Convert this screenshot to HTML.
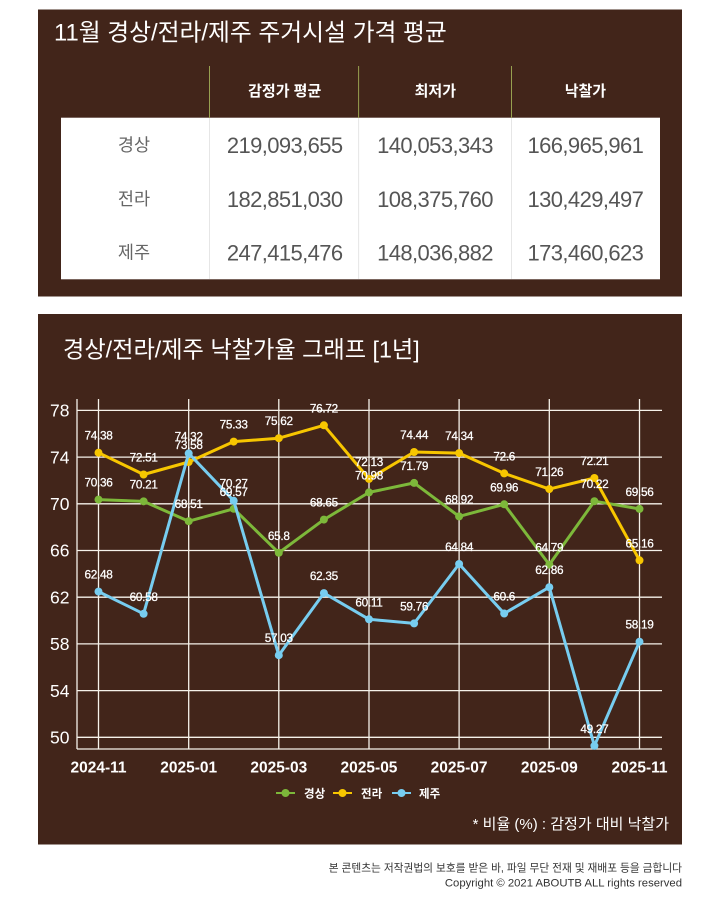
<!DOCTYPE html>
<html><head><meta charset="utf-8">
<style>
html,body{margin:0;padding:0;background:#fff;}
svg{display:block;}
text{font-family:"Liberation Sans","Noto Sans CJK KR",sans-serif;}
</style></head>
<body>
<svg width="720" height="911" viewBox="0 0 720 911" xmlns="http://www.w3.org/2000/svg">
<!-- Top panel -->
<rect x="38" y="9.5" width="644" height="287" fill="#42251a"/>
<text x="54" y="40.5" font-size="23.8" fill="#fff">11월 경상/전라/제주 주거시설 가격 평균</text>
<rect x="61" y="117.7" width="599" height="161.6" fill="#fff"/>
<g stroke="#98a050" stroke-width="1">
<line x1="209.5" y1="66" x2="209.5" y2="118"/>
<line x1="358.6" y1="66" x2="358.6" y2="118"/>
<line x1="511.5" y1="66" x2="511.5" y2="118"/>
</g>
<g stroke="#e6e6e6" stroke-width="1">
<line x1="209.5" y1="118" x2="209.5" y2="279"/>
<line x1="358.6" y1="118" x2="358.6" y2="279"/>
<line x1="511.5" y1="118" x2="511.5" y2="279"/>
</g>
<g font-size="15" fill="#fff" text-anchor="middle" font-weight="bold">
<text x="284.7" y="96">감정가 평균</text>
<text x="435.3" y="96">최저가</text>
<text x="585.4" y="96">낙찰가</text>
</g>
<g font-size="17.5" fill="#666" text-anchor="middle">
<text x="134" y="151">경상</text>
<text x="134" y="205">전라</text>
<text x="134" y="258.5">제주</text>
</g>
<g font-size="22" fill="#555" text-anchor="middle" letter-spacing="-0.6">
<text x="284.7" y="153">219,093,655</text>
<text x="435" y="153">140,053,343</text>
<text x="585.4" y="153">166,965,961</text>
<text x="284.7" y="207">182,851,030</text>
<text x="435" y="207">108,375,760</text>
<text x="585.4" y="207">130,429,497</text>
<text x="284.7" y="260.7">247,415,476</text>
<text x="435" y="260.7">148,036,882</text>
<text x="585.4" y="260.7">173,460,623</text>
</g>

<!-- Chart panel -->
<rect x="38" y="314" width="644" height="530.5" fill="#42251a"/>
<text x="63" y="357.5" font-size="23.2" fill="#fff">경상/전라/제주 낙찰가율 그래프 [1년]</text>

<!-- grid -->
<g stroke="#f6f2ea" stroke-width="1.3">
<line x1="77" y1="410.4" x2="662" y2="410.4"/>
<line x1="77" y1="457.1" x2="662" y2="457.1"/>
<line x1="77" y1="503.8" x2="662" y2="503.8"/>
<line x1="77" y1="550.5" x2="662" y2="550.5"/>
<line x1="77" y1="597.2" x2="662" y2="597.2"/>
<line x1="77" y1="643.9" x2="662" y2="643.9"/>
<line x1="77" y1="690.6" x2="662" y2="690.6"/>
<line x1="77" y1="737.3" x2="662" y2="737.3"/>
<line x1="98.5" y1="399" x2="98.5" y2="749"/>
<line x1="188.7" y1="399" x2="188.7" y2="749"/>
<line x1="278.8" y1="399" x2="278.8" y2="749"/>
<line x1="369" y1="399" x2="369" y2="749"/>
<line x1="459.1" y1="399" x2="459.1" y2="749"/>
<line x1="549.3" y1="399" x2="549.3" y2="749"/>
<line x1="639.5" y1="399" x2="639.5" y2="749"/>
<line x1="77" y1="399" x2="77" y2="749"/>
<line x1="77" y1="749" x2="662" y2="749"/>
</g>
<g font-size="17.5" fill="#fff" text-anchor="end">
<text x="69.5" y="416.6">78</text>
<text x="69.5" y="463.3">74</text>
<text x="69.5" y="510">70</text>
<text x="69.5" y="556.7">66</text>
<text x="69.5" y="603.4">62</text>
<text x="69.5" y="650.1">58</text>
<text x="69.5" y="696.8">54</text>
<text x="69.5" y="743.5">50</text>
</g>
<g font-size="15.5" fill="#fff" text-anchor="middle" font-weight="bold">
<text x="98.5" y="772.5">2024-11</text>
<text x="188.7" y="772.5">2025-01</text>
<text x="278.8" y="772.5">2025-03</text>
<text x="369" y="772.5">2025-05</text>
<text x="459.1" y="772.5">2025-07</text>
<text x="549.3" y="772.5">2025-09</text>
<text x="639.5" y="772.5">2025-11</text>
</g>

<!-- green 경상 -->
<g fill="#7db83a">
<polyline fill="none" stroke="#7db83a" stroke-width="3" stroke-linejoin="round" points="98.5,499.6 143.6,501.35 188.7,521.2 233.7,508.8 278.8,552.8 323.9,519.6 369,492.4 414.1,482.9 459.1,516.4 504.2,504.3 549.3,564.6 594.4,501.2 639.5,508.9"/>
<circle cx="98.5" cy="499.6" r="4"/><circle cx="143.6" cy="501.35" r="4"/><circle cx="188.7" cy="521.2" r="4"/><circle cx="233.7" cy="508.8" r="4"/><circle cx="278.8" cy="552.8" r="4"/><circle cx="323.9" cy="519.6" r="4"/><circle cx="369" cy="492.4" r="4"/><circle cx="414.1" cy="482.9" r="4"/><circle cx="459.1" cy="516.4" r="4"/><circle cx="504.2" cy="504.3" r="4"/><circle cx="549.3" cy="564.6" r="4"/><circle cx="594.4" cy="501.2" r="4"/><circle cx="639.5" cy="508.9" r="4"/>
</g>
<!-- yellow 전라 -->
<g fill="#f7c600">
<polyline fill="none" stroke="#f7c600" stroke-width="3" stroke-linejoin="round" points="98.5,452.7 143.6,474.5 188.7,462 233.7,441.6 278.8,438.2 323.9,425.3 369,478.9 414.1,452 459.1,453.1 504.2,473.4 549.3,489.1 594.4,478 639.5,560.3"/>
<circle cx="98.5" cy="452.7" r="4"/><circle cx="143.6" cy="474.5" r="4"/><circle cx="188.7" cy="462" r="4"/><circle cx="233.7" cy="441.6" r="4"/><circle cx="278.8" cy="438.2" r="4"/><circle cx="323.9" cy="425.3" r="4"/><circle cx="369" cy="478.9" r="4"/><circle cx="414.1" cy="452" r="4"/><circle cx="459.1" cy="453.1" r="4"/><circle cx="504.2" cy="473.4" r="4"/><circle cx="549.3" cy="489.1" r="4"/><circle cx="594.4" cy="478" r="4"/><circle cx="639.5" cy="560.3" r="4"/>
</g>
<!-- blue 제주 -->
<g fill="#77cdf0">
<polyline fill="none" stroke="#77cdf0" stroke-width="3" stroke-linejoin="round" points="98.5,591.6 143.6,613.8 188.7,453.4 233.7,500.7 278.8,655.2 323.9,593.1 369,619.3 414.1,623.4 459.1,564 504.2,613.5 549.3,587.2 594.4,745.8 639.5,641.7"/>
<circle cx="98.5" cy="591.6" r="4"/><circle cx="143.6" cy="613.8" r="4"/><circle cx="188.7" cy="453.4" r="4"/><circle cx="233.7" cy="500.7" r="4"/><circle cx="278.8" cy="655.2" r="4"/><circle cx="323.9" cy="593.1" r="4"/><circle cx="369" cy="619.3" r="4"/><circle cx="414.1" cy="623.4" r="4"/><circle cx="459.1" cy="564" r="4"/><circle cx="504.2" cy="613.5" r="4"/><circle cx="549.3" cy="587.2" r="4"/><circle cx="594.4" cy="745.8" r="4"/><circle cx="639.5" cy="641.7" r="4"/>
</g>

<!-- data labels -->
<g font-size="11.8" fill="#fff" text-anchor="middle" letter-spacing="-0.3" stroke="#fff" stroke-width="0.25">
<text x="98.5" y="486.6">70.36</text>
<text x="143.6" y="488.35">70.21</text>
<text x="188.7" y="508.2">68.51</text>
<text x="233.7" y="495.8">69.57</text>
<text x="278.8" y="539.8">65.8</text>
<text x="323.9" y="506.6">68.65</text>
<text x="369" y="479.4">70.98</text>
<text x="414.1" y="469.9">71.79</text>
<text x="459.1" y="503.4">68.92</text>
<text x="504.2" y="491.3">69.96</text>
<text x="549.3" y="551.6">64.79</text>
<text x="594.4" y="488.2">70.22</text>
<text x="639.5" y="495.9">69.56</text>

<text x="98.5" y="439.7">74.38</text>
<text x="143.6" y="461.5">72.51</text>
<text x="188.7" y="449">73.58</text>
<text x="233.7" y="428.6">75.33</text>
<text x="278.8" y="425.2">75.62</text>
<text x="323.9" y="412.3">76.72</text>
<text x="369" y="465.9">72.13</text>
<text x="414.1" y="439">74.44</text>
<text x="459.1" y="440.1">74.34</text>
<text x="504.2" y="460.4">72.6</text>
<text x="549.3" y="476.1">71.26</text>
<text x="594.4" y="465">72.21</text>
<text x="639.5" y="547.3">65.16</text>

<text x="98.5" y="578.6">62.48</text>
<text x="143.6" y="600.8">60.58</text>
<text x="188.7" y="440.4">74.32</text>
<text x="233.7" y="487.7">70.27</text>
<text x="278.8" y="642.2">57.03</text>
<text x="323.9" y="580.1">62.35</text>
<text x="369" y="606.3">60.11</text>
<text x="414.1" y="610.4">59.76</text>
<text x="459.1" y="551">64.84</text>
<text x="504.2" y="600.5">60.6</text>
<text x="549.3" y="574.2">62.86</text>
<text x="594.4" y="732.8">49.27</text>
<text x="639.5" y="628.7">58.19</text>
</g>

<!-- legend -->
<g stroke-width="2">
<line x1="276" y1="793" x2="295" y2="793" stroke="#7db83a"/>
<line x1="333" y1="793" x2="352" y2="793" stroke="#f7c600"/>
<line x1="392" y1="793" x2="411" y2="793" stroke="#77cdf0"/>
</g>
<circle cx="285.5" cy="793" r="4" fill="#7db83a"/>
<circle cx="342.5" cy="793" r="4" fill="#f7c600"/>
<circle cx="401.5" cy="793" r="4" fill="#77cdf0"/>
<g font-size="11.5" fill="#fff" font-weight="bold">
<text x="304" y="797.5">경상</text>
<text x="361" y="797.5">전라</text>
<text x="419" y="797.5">제주</text>
</g>
<text x="669" y="829" font-size="15" fill="#fff" text-anchor="end">* 비율 (%) : 감정가 대비 낙찰가</text>

<!-- footer -->
<text x="682" y="871.5" font-size="10.7" fill="#333" text-anchor="end">본 콘텐츠는 저작권법의 보호를 받은 바, 파일 무단 전재 및 재배포 등을 금합니다</text>
<text x="682" y="886.5" font-size="11.3" fill="#333" text-anchor="end">Copyright © 2021 ABOUTB ALL rights reserved</text>
</svg>
</body></html>
